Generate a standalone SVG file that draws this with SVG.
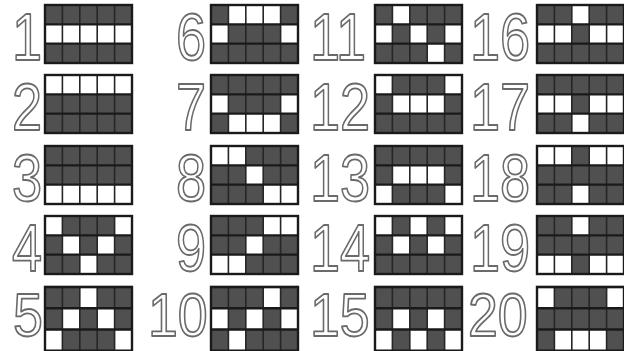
<svg xmlns="http://www.w3.org/2000/svg" xmlns:xlink="http://www.w3.org/1999/xlink" width="624" height="351" viewBox="0 0 624 351">
<style>
.num{font-family:"Liberation Sans",Arial,sans-serif;font-size:66px;fill:#fff;stroke:#6a6a6a;stroke-width:1.8;stroke-linejoin:round}
.sm{font-size:61px}
.w{fill:#fff}
.bg{fill:#505050}
.v{stroke:#262626;stroke-width:1.6;fill:none}
.h{stroke:#1a1a1a;stroke-width:2.4;fill:none}
</style>
<defs>
<rect id="bg" class="bg" width="87" height="58"/>
<g id="lines">
<path class="v" d="M17.4 0V58M34.8 0V58M52.2 0V58M69.6 0V58"/>
<path class="h" d="M0 19.33H87M0 38.67H87"/>
<rect class="h" x="0" y="0" width="87" height="58"/>
</g>
</defs>
<rect width="624" height="351" fill="#fff"/>

<g id="line-1"><text class="num" transform="translate(12,60) scale(0.82,1)">1</text>
<g transform="translate(45,5)"><use href="#bg"/>
<rect class="w" x="0" y="19.33" width="17.4" height="19.33"/><rect class="w" x="17.4" y="19.33" width="17.4" height="19.33"/><rect class="w" x="34.8" y="19.33" width="17.4" height="19.33"/><rect class="w" x="52.2" y="19.33" width="17.4" height="19.33"/><rect class="w" x="69.6" y="19.33" width="17.4" height="19.33"/>
<use href="#lines"/></g></g>

<g id="line-2"><text class="num" transform="translate(12,130) scale(0.82,1)">2</text>
<g transform="translate(45,75)"><use href="#bg"/>
<rect class="w" x="0" y="0" width="17.4" height="19.33"/><rect class="w" x="17.4" y="0" width="17.4" height="19.33"/><rect class="w" x="34.8" y="0" width="17.4" height="19.33"/><rect class="w" x="52.2" y="0" width="17.4" height="19.33"/><rect class="w" x="69.6" y="0" width="17.4" height="19.33"/>
<use href="#lines"/></g></g>

<g id="line-3"><text class="num" transform="translate(12,201) scale(0.82,1)">3</text>
<g transform="translate(45,146)"><use href="#bg"/>
<rect class="w" x="0" y="38.67" width="17.4" height="19.33"/><rect class="w" x="17.4" y="38.67" width="17.4" height="19.33"/><rect class="w" x="34.8" y="38.67" width="17.4" height="19.33"/><rect class="w" x="52.2" y="38.67" width="17.4" height="19.33"/><rect class="w" x="69.6" y="38.67" width="17.4" height="19.33"/>
<use href="#lines"/></g></g>

<g id="line-4"><text class="num" transform="translate(12,271) scale(0.82,1)">4</text>
<g transform="translate(45,216)"><use href="#bg"/>
<rect class="w" x="0" y="0" width="17.4" height="19.33"/><rect class="w" x="17.4" y="19.33" width="17.4" height="19.33"/><rect class="w" x="34.8" y="38.67" width="17.4" height="19.33"/><rect class="w" x="52.2" y="19.33" width="17.4" height="19.33"/><rect class="w" x="69.6" y="0" width="17.4" height="19.33"/>
<use href="#lines"/></g></g>

<g id="line-5"><text class="num sm" transform="translate(13,336) scale(0.88,1)">5</text>
<g transform="translate(45,287) scale(1,1.1)"><use href="#bg"/>
<rect class="w" x="0" y="38.67" width="17.4" height="19.33"/><rect class="w" x="17.4" y="19.33" width="17.4" height="19.33"/><rect class="w" x="34.8" y="0" width="17.4" height="19.33"/><rect class="w" x="52.2" y="19.33" width="17.4" height="19.33"/><rect class="w" x="69.6" y="38.67" width="17.4" height="19.33"/>
<use href="#lines"/></g></g>

<g id="line-6"><text class="num" transform="translate(176,60) scale(0.82,1)">6</text>
<g transform="translate(211,5)"><use href="#bg"/>
<rect class="w" x="0" y="19.33" width="17.4" height="19.33"/><rect class="w" x="17.4" y="0" width="17.4" height="19.33"/><rect class="w" x="34.8" y="0" width="17.4" height="19.33"/><rect class="w" x="52.2" y="0" width="17.4" height="19.33"/><rect class="w" x="69.6" y="19.33" width="17.4" height="19.33"/>
<use href="#lines"/></g></g>

<g id="line-7"><text class="num" transform="translate(176,130) scale(0.82,1)">7</text>
<g transform="translate(211,75)"><use href="#bg"/>
<rect class="w" x="0" y="19.33" width="17.4" height="19.33"/><rect class="w" x="17.4" y="38.67" width="17.4" height="19.33"/><rect class="w" x="34.8" y="38.67" width="17.4" height="19.33"/><rect class="w" x="52.2" y="38.67" width="17.4" height="19.33"/><rect class="w" x="69.6" y="19.33" width="17.4" height="19.33"/>
<use href="#lines"/></g></g>

<g id="line-8"><text class="num" transform="translate(176,201) scale(0.82,1)">8</text>
<g transform="translate(211,146)"><use href="#bg"/>
<rect class="w" x="0" y="0" width="17.4" height="19.33"/><rect class="w" x="17.4" y="0" width="17.4" height="19.33"/><rect class="w" x="34.8" y="19.33" width="17.4" height="19.33"/><rect class="w" x="52.2" y="38.67" width="17.4" height="19.33"/><rect class="w" x="69.6" y="38.67" width="17.4" height="19.33"/>
<use href="#lines"/></g></g>

<g id="line-9"><text class="num" transform="translate(176,271) scale(0.82,1)">9</text>
<g transform="translate(211,216)"><use href="#bg"/>
<rect class="w" x="0" y="38.67" width="17.4" height="19.33"/><rect class="w" x="17.4" y="38.67" width="17.4" height="19.33"/><rect class="w" x="34.8" y="19.33" width="17.4" height="19.33"/><rect class="w" x="52.2" y="0" width="17.4" height="19.33"/><rect class="w" x="69.6" y="0" width="17.4" height="19.33"/>
<use href="#lines"/></g></g>

<g id="line-10"><text class="num sm" transform="translate(148,336) scale(0.88,1)">10</text>
<g transform="translate(211,287) scale(1,1.1)"><use href="#bg"/>
<rect class="w" x="0" y="19.33" width="17.4" height="19.33"/><rect class="w" x="17.4" y="38.67" width="17.4" height="19.33"/><rect class="w" x="34.8" y="19.33" width="17.4" height="19.33"/><rect class="w" x="52.2" y="0" width="17.4" height="19.33"/><rect class="w" x="69.6" y="19.33" width="17.4" height="19.33"/>
<use href="#lines"/></g></g>

<g id="line-11"><text class="num" transform="translate(310,60) scale(0.82,1)">11</text>
<g transform="translate(375,5)"><use href="#bg"/>
<rect class="w" x="0" y="19.33" width="17.4" height="19.33"/><rect class="w" x="17.4" y="0" width="17.4" height="19.33"/><rect class="w" x="34.8" y="19.33" width="17.4" height="19.33"/><rect class="w" x="52.2" y="38.67" width="17.4" height="19.33"/><rect class="w" x="69.6" y="19.33" width="17.4" height="19.33"/>
<use href="#lines"/></g></g>

<g id="line-12"><text class="num" transform="translate(310,130) scale(0.82,1)">12</text>
<g transform="translate(375,75)"><use href="#bg"/>
<rect class="w" x="0" y="0" width="17.4" height="19.33"/><rect class="w" x="17.4" y="19.33" width="17.4" height="19.33"/><rect class="w" x="34.8" y="19.33" width="17.4" height="19.33"/><rect class="w" x="52.2" y="19.33" width="17.4" height="19.33"/><rect class="w" x="69.6" y="0" width="17.4" height="19.33"/>
<use href="#lines"/></g></g>

<g id="line-13"><text class="num" transform="translate(310,201) scale(0.82,1)">13</text>
<g transform="translate(375,146)"><use href="#bg"/>
<rect class="w" x="0" y="38.67" width="17.4" height="19.33"/><rect class="w" x="17.4" y="19.33" width="17.4" height="19.33"/><rect class="w" x="34.8" y="19.33" width="17.4" height="19.33"/><rect class="w" x="52.2" y="19.33" width="17.4" height="19.33"/><rect class="w" x="69.6" y="38.67" width="17.4" height="19.33"/>
<use href="#lines"/></g></g>

<g id="line-14"><text class="num" transform="translate(310,271) scale(0.82,1)">14</text>
<g transform="translate(375,216)"><use href="#bg"/>
<rect class="w" x="0" y="0" width="17.4" height="19.33"/><rect class="w" x="17.4" y="19.33" width="17.4" height="19.33"/><rect class="w" x="34.8" y="0" width="17.4" height="19.33"/><rect class="w" x="52.2" y="19.33" width="17.4" height="19.33"/><rect class="w" x="69.6" y="0" width="17.4" height="19.33"/>
<use href="#lines"/></g></g>

<g id="line-15"><text class="num sm" transform="translate(310,336) scale(0.88,1)">15</text>
<g transform="translate(375,287) scale(1,1.1)"><use href="#bg"/>
<rect class="w" x="0" y="38.67" width="17.4" height="19.33"/><rect class="w" x="17.4" y="19.33" width="17.4" height="19.33"/><rect class="w" x="34.8" y="38.67" width="17.4" height="19.33"/><rect class="w" x="52.2" y="19.33" width="17.4" height="19.33"/><rect class="w" x="69.6" y="38.67" width="17.4" height="19.33"/>
<use href="#lines"/></g></g>

<g id="line-16"><text class="num" transform="translate(470,60) scale(0.82,1)">16</text>
<g transform="translate(537,5)"><use href="#bg"/>
<rect class="w" x="0" y="19.33" width="17.4" height="19.33"/><rect class="w" x="17.4" y="19.33" width="17.4" height="19.33"/><rect class="w" x="34.8" y="0" width="17.4" height="19.33"/><rect class="w" x="52.2" y="19.33" width="17.4" height="19.33"/><rect class="w" x="69.6" y="19.33" width="17.4" height="19.33"/>
<use href="#lines"/></g></g>

<g id="line-17"><text class="num" transform="translate(470,130) scale(0.82,1)">17</text>
<g transform="translate(537,75)"><use href="#bg"/>
<rect class="w" x="0" y="19.33" width="17.4" height="19.33"/><rect class="w" x="17.4" y="19.33" width="17.4" height="19.33"/><rect class="w" x="34.8" y="38.67" width="17.4" height="19.33"/><rect class="w" x="52.2" y="19.33" width="17.4" height="19.33"/><rect class="w" x="69.6" y="19.33" width="17.4" height="19.33"/>
<use href="#lines"/></g></g>

<g id="line-18"><text class="num" transform="translate(470,201) scale(0.82,1)">18</text>
<g transform="translate(537,146)"><use href="#bg"/>
<rect class="w" x="0" y="0" width="17.4" height="19.33"/><rect class="w" x="17.4" y="0" width="17.4" height="19.33"/><rect class="w" x="34.8" y="38.67" width="17.4" height="19.33"/><rect class="w" x="52.2" y="0" width="17.4" height="19.33"/><rect class="w" x="69.6" y="0" width="17.4" height="19.33"/>
<use href="#lines"/></g></g>

<g id="line-19"><text class="num" transform="translate(470,271) scale(0.82,1)">19</text>
<g transform="translate(537,216)"><use href="#bg"/>
<rect class="w" x="0" y="38.67" width="17.4" height="19.33"/><rect class="w" x="17.4" y="38.67" width="17.4" height="19.33"/><rect class="w" x="34.8" y="0" width="17.4" height="19.33"/><rect class="w" x="52.2" y="38.67" width="17.4" height="19.33"/><rect class="w" x="69.6" y="38.67" width="17.4" height="19.33"/>
<use href="#lines"/></g></g>

<g id="line-20"><text class="num sm" transform="translate(468,336) scale(0.88,1)">20</text>
<g transform="translate(537,287) scale(1,1.1)"><use href="#bg"/>
<rect class="w" x="0" y="0" width="17.4" height="19.33"/><rect class="w" x="17.4" y="38.67" width="17.4" height="19.33"/><rect class="w" x="34.8" y="38.67" width="17.4" height="19.33"/><rect class="w" x="52.2" y="38.67" width="17.4" height="19.33"/><rect class="w" x="69.6" y="0" width="17.4" height="19.33"/>
<use href="#lines"/></g></g>

<g id="connectors"></g>
</svg>
